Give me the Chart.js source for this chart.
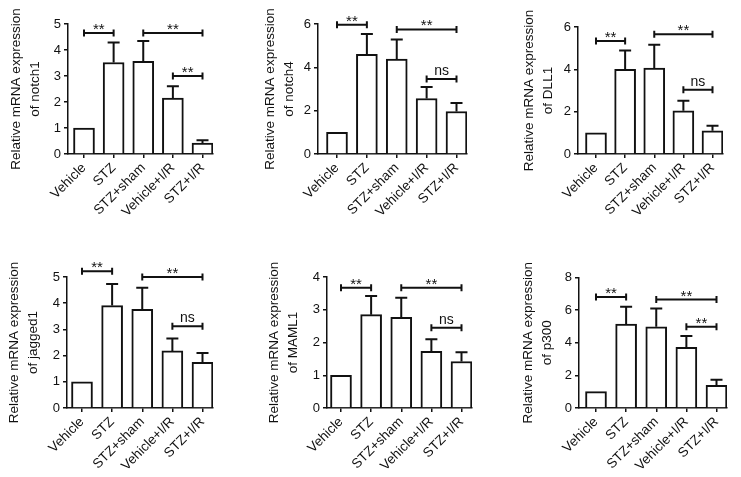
<!DOCTYPE html>
<html>
<head>
<meta charset="utf-8">
<script src="https://cdn.jsdelivr.net/npm/chart.js@4.4.1/dist/chart.umd.min.js"></script>
<style>
  html, body { margin: 0; padding: 0; background: #fff; }
  #wrap { position: relative; width: 741px; height: 477px; overflow: hidden; }
  #wrap canvas { position: absolute; }
</style>
</head>
<body>
<div id="wrap">
  <canvas id="notch1"></canvas>
  <canvas id="notch4"></canvas>
  <canvas id="dll1"></canvas>
  <canvas id="jagged1"></canvas>
  <canvas id="maml1"></canvas>
  <canvas id="p300"></canvas>
</div>
<script>
const groups = ["Vehicle", "STZ", "STZ+sham", "Vehicle+I/R", "STZ+I/R"];

const notch1Mean = [1, 3.52, 3.56, 2.15, 0.42];
const notch1Sd = [0, 0.77, 0.79, 0.46, 0.11];
const notch1Sig = [[0, 1, 4.65, "**"], [2, 4, 4.65, "**"], [3, 4, 3.0, "**"]];

const notch4Mean = [1, 4.6, 4.38, 2.56, 1.96];
const notch4Sd = [0, 0.94, 0.91, 0.53, 0.39];
const notch4Sig = [[0, 1, 5.97, "**"], [2, 4, 5.75, "**"], [3, 4, 3.46, "ns"]];

const dll1Mean = [1, 4.0, 4.06, 2.04, 1.1];
const dll1Sd = [0, 0.89, 1.1, 0.48, 0.23];
const dll1Sig = [[0, 1, 5.34, "**"], [2, 4, 5.66, "**"], [3, 4, 3.03, "ns"]];

const jagged1Mean = [1, 3.91, 3.77, 2.18, 1.74];
const jagged1Sd = [0, 0.82, 0.82, 0.47, 0.36];
const jagged1Sig = [[0, 1, 5.22, "**"], [2, 4, 5.0, "**"], [3, 4, 3.12, "ns"]];

const maml1Mean = [1, 2.85, 2.77, 1.73, 1.42];
const maml1Sd = [0, 0.57, 0.6, 0.37, 0.28];
const maml1Sig = [[0, 1, 3.67, "**"], [2, 4, 3.67, "**"], [3, 4, 2.45, "ns"]];

const p300Mean = [1, 5.14, 4.98, 3.72, 1.39];
const p300Sd = [0, 1.06, 1.12, 0.69, 0.34];
const p300Sig = [[0, 1, 6.81, "**"], [2, 4, 6.65, "**"], [3, 4, 4.98, "**"]];

const INK = "#111";
const FONT = "'Liberation Sans', Arial, sans-serif";
const BAR_W = 21;
const TITLE_LH = 19;

const renderPanel = ({ id, gene, box, plot, titleX, firstOffset, mean, sd, sig, yMax, yStep }) => {
  const canvas = document.getElementById(id);
  canvas.width = box.width;
  canvas.height = box.height;
  canvas.style.left = box.left + "px";
  canvas.style.top = box.top + "px";
  canvas.style.width = box.width + "px";
  canvas.style.height = box.height + "px";

  const plotW = plot.right - plot.left;
  const step = (plotW - firstOffset - BAR_W / 2) / (groups.length - 1);
  const xMin = -firstOffset / step;
  const xMax = groups.length - 1 + BAR_W / 2 / step;
  const padLeft = titleX - box.left - TITLE_LH / 2;

  // error bars (upper only) and significance brackets
  const extras = {
    id: "extras",
    afterDatasetsDraw(chart) {
      const { ctx, scales: { x, y } } = chart;
      ctx.save();
      ctx.strokeStyle = INK;
      ctx.fillStyle = INK;
      ctx.lineWidth = 2;
      sd.forEach((e, i) => {
        if (!e) return;
        const px = x.getPixelForValue(i);
        const y0 = y.getPixelForValue(mean[i]);
        const y1 = y.getPixelForValue(mean[i] + e);
        ctx.beginPath();
        ctx.moveTo(px, y0);
        ctx.lineTo(px, y1);
        ctx.moveTo(px - 6, y1);
        ctx.lineTo(px + 6, y1);
        ctx.stroke();
      });
      sig.forEach(([a, b, v, label]) => {
        const xa = x.getPixelForValue(a);
        const xb = x.getPixelForValue(b);
        const py = y.getPixelForValue(v);
        ctx.beginPath();
        ctx.moveTo(xa, py);
        ctx.lineTo(xb, py);
        ctx.moveTo(xa, py - 3.5);
        ctx.lineTo(xa, py + 3.5);
        ctx.moveTo(xb, py - 3.5);
        ctx.lineTo(xb, py + 3.5);
        ctx.stroke();
        ctx.textAlign = "center";
        ctx.textBaseline = "alphabetic";
        if (label === "**") {
          ctx.font = "15px " + FONT;
          ctx.fillText(label, (xa + xb) / 2, py + 1);
        } else {
          ctx.font = "14px " + FONT;
          ctx.fillText(label, (xa + xb) / 2, py - 4);
        }
      });
      ctx.restore();
    },
  };

  new Chart(canvas, {
    type: "bar",
    data: {
      datasets: [
        {
          data: mean.map((v, i) => ({ x: i, y: v })),
          backgroundColor: "#fff",
          borderColor: INK,
          borderWidth: 2,
          barThickness: BAR_W,
        },
      ],
    },
    options: {
      responsive: false,
      animation: false,
      devicePixelRatio: 1,
      layout: {
        padding: {
          left: padLeft,
          top: plot.top - box.top,
          right: box.left + box.width - plot.right,
          bottom: 0,
        },
      },
      plugins: {
        legend: { display: false },
        tooltip: { enabled: false },
      },
      scales: {
        x: {
          type: "linear",
          min: xMin,
          max: xMax,
          offset: false,
          grid: { display: true, drawOnChartArea: false, offset: false, tickLength: 4, color: INK, lineWidth: 1.5 },
          border: { color: INK, width: 1.5 },
          ticks: {
            stepSize: 1,
            includeBounds: false,
            autoSkip: false,
            minRotation: 45,
            maxRotation: 45,
            padding: 2,
            color: INK,
            font: { size: 13.5, family: FONT },
            callback: (v) => groups[v] ?? "",
          },
          afterFit: (s) => { s.height = box.top + box.height - plot.bottom; },
        },
        y: {
          min: 0,
          max: yMax,
          grid: { drawOnChartArea: false, tickLength: 4, color: INK, lineWidth: 1.5 },
          border: { color: INK, width: 1.5 },
          ticks: { stepSize: yStep, padding: 3, color: INK, font: { size: 13, family: FONT } },
          title: {
            display: true,
            text: ["Relative mRNA expression", `of ${gene}`],
            color: INK,
            padding: 0,
            font: { size: 13.5, family: FONT, lineHeight: TITLE_LH / 13.5 },
          },
          afterFit: (s) => { s.width = plot.left - box.left - padLeft; },
        },
      },
    },
    plugins: [extras],
  });
};

renderPanel({
  id: "notch1", gene: "notch1", mean: notch1Mean, sd: notch1Sd, sig: notch1Sig, yMax: 5, yStep: 1,
  box: { left: 0, top: 0, width: 245, height: 237 },
  plot: { left: 68, right: 213, top: 24, bottom: 154 },
  titleX: 16, firstOffset: 16,
});
renderPanel({
  id: "notch4", gene: "notch4", mean: notch4Mean, sd: notch4Sd, sig: notch4Sig, yMax: 6, yStep: 2,
  box: { left: 245, top: 0, width: 245, height: 237 },
  plot: { left: 318, right: 467, top: 24, bottom: 154 },
  titleX: 270, firstOffset: 19,
});
renderPanel({
  id: "dll1", gene: "DLL1", mean: dll1Mean, sd: dll1Sd, sig: dll1Sig, yMax: 6, yStep: 2,
  box: { left: 490, top: 0, width: 251, height: 237 },
  plot: { left: 578, right: 723, top: 27, bottom: 154 },
  titleX: 529.5, firstOffset: 18,
});
renderPanel({
  id: "jagged1", gene: "jagged1", mean: jagged1Mean, sd: jagged1Sd, sig: jagged1Sig, yMax: 5, yStep: 1,
  box: { left: 0, top: 237, width: 245, height: 240 },
  plot: { left: 67, right: 213, top: 277, bottom: 408 },
  titleX: 14, firstOffset: 15,
});
renderPanel({
  id: "maml1", gene: "MAML1", mean: maml1Mean, sd: maml1Sd, sig: maml1Sig, yMax: 4, yStep: 1,
  box: { left: 245, top: 237, width: 245, height: 240 },
  plot: { left: 327, right: 472, top: 277, bottom: 408 },
  titleX: 274.5, firstOffset: 14,
});
renderPanel({
  id: "p300", gene: "p300", mean: p300Mean, sd: p300Sd, sig: p300Sig, yMax: 8, yStep: 2,
  box: { left: 490, top: 237, width: 251, height: 240 },
  plot: { left: 579, right: 727, top: 277.5, bottom: 408 },
  titleX: 528, firstOffset: 17,
});
</script>
</body>
</html>
